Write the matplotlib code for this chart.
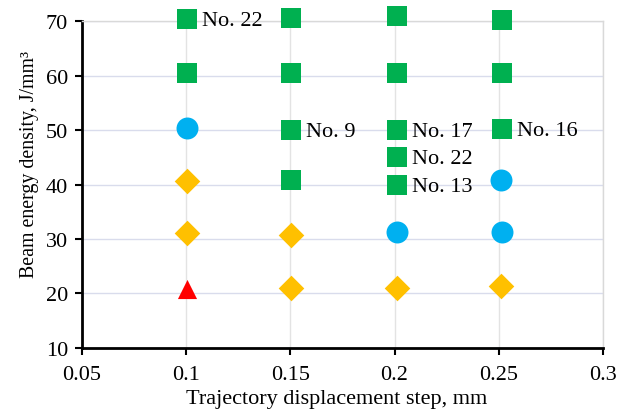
import matplotlib.pyplot as plt

# values
sq_x = [0.1005, 0.1005, 0.1505, 0.1505, 0.1505, 0.1505, 0.2012, 0.2012, 0.2012, 0.2012, 0.2012, 0.2517, 0.2517, 0.2517]
sq_y = [70.4, 60.5, 70.5, 60.5, 50.0, 40.9, 70.9, 60.4, 50.05, 45.1, 39.9, 70.2, 60.4, 50.2]
ci_x = [0.1005, 0.2012, 0.2512, 0.2517]
ci_y = [50.3, 31.2, 40.9, 31.3]
di_x = [0.1005, 0.1005, 0.1505, 0.1505, 0.2012, 0.2512]
di_y = [40.7, 31.1, 30.8, 21.0, 21.0, 21.4]
tr_x = [0.1005]
tr_y = [20.8]

lab_text = ["No. 22", "No. 9", "No. 17", "No. 22", "No. 13", "No. 16"]
lab_x = [0.1005, 0.1505, 0.2012, 0.2012, 0.2012, 0.2517]
lab_y = [70.4, 50.0, 50.05, 45.1, 39.9, 50.2]

plt.rcParams['font.family'] = ['Liberation Serif', 'DejaVu Serif']

fig = plt.figure(figsize=(6.26, 4.10), dpi=100)
ax = fig.add_axes([0.131, 0.149, 0.832, 0.797])

ax.grid(True, axis='y', color='#D9DCEC', lw=1)
ax.grid(True, axis='x', color='#E3E3E3', lw=1)
ax.set_axisbelow(True)

ax.scatter(sq_x, sq_y, marker='s', s=190, color='#00B050', zorder=3, linewidths=0, clip_on=False)
ax.scatter(ci_x, ci_y, marker='o', s=250, color='#00B0F0', zorder=3, linewidths=0, clip_on=False)
ax.scatter(di_x, di_y, marker='D', s=170, color='#FFC000', zorder=3, linewidths=0, clip_on=False)
ax.scatter(tr_x, tr_y, marker='^', s=190, color='#FF0000', zorder=3, linewidths=0, clip_on=False)

for t, x, y in zip(lab_text, lab_x, lab_y):
	ax.annotate(t, (x, y), xytext=(10.5, -1), textcoords='offset points',
		va='center', ha='left', fontsize=16, annotation_clip=False)

ax.set_xlim(0.05, 0.3)
ax.set_ylim(10, 70)
ax.set_xticks([0.05, 0.1, 0.15, 0.2, 0.25, 0.3])
ax.set_xticklabels(['0.05', '0.1', '0.15', '0.2', '0.25', '0.3'])
ax.set_yticks([10, 20, 30, 40, 50, 60, 70])

for s in ['left', 'bottom']:
	ax.spines[s].set_linewidth(2)
	ax.spines[s].set_color('black')
for s in ['top', 'right']:
	ax.spines[s].set_linewidth(1)
	ax.spines[s].set_color('#D9D9D9')

ax.tick_params(axis='both', direction='out', length=5, width=1.5, labelsize=16, colors='black')
ax.tick_params(axis='x', pad=7)
ax.tick_params(axis='y', pad=5)

ax.set_xlabel('Trajectory displacement step, mm', fontsize=16)
ax.set_ylabel('Beam energy density, J/mm³', fontsize=14.3)
ax.xaxis.set_label_coords(0.488, -0.125)
ax.yaxis.set_label_coords(-0.083, 0.565)

fig.savefig('out.png', dpi=100)
